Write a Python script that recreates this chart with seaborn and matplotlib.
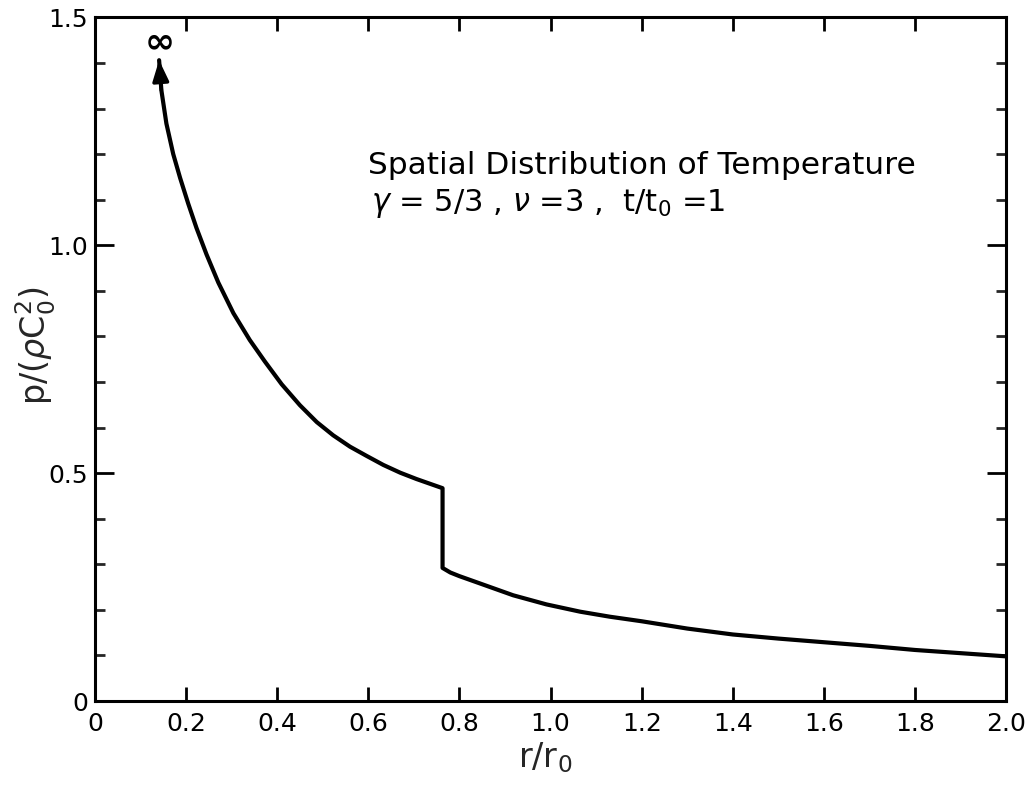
import matplotlib
matplotlib.use("Agg")
import matplotlib.pyplot as plt
import seaborn as sns
import pandas as pd
import numpy as np

# Inner region (behind the front), rising to infinity at small r
r_inner = [0.141, 0.146, 0.157, 0.172, 0.187, 0.205, 0.223, 0.245, 0.271, 0.304, 0.340, 0.373,
           0.410, 0.450, 0.487, 0.523, 0.560, 0.596, 0.633, 0.670, 0.706, 0.743, 0.763]
p_inner = [1.406, 1.340, 1.267, 1.200, 1.148, 1.091, 1.038, 0.980, 0.918, 0.851, 0.792, 0.745,
           0.695, 0.649, 0.612, 0.583, 0.558, 0.538, 0.518, 0.501, 0.487, 0.474, 0.467]
# Outer region (beyond the front)
r_outer = [0.763, 0.780, 0.800, 0.845, 0.918, 0.991, 1.065, 1.130, 1.200, 1.300, 1.400, 1.500,
           1.600, 1.700, 1.800, 1.900, 2.000]
p_outer = [0.292, 0.282, 0.274, 0.258, 0.232, 0.212, 0.196, 0.185, 0.175, 0.159, 0.146, 0.137,
           0.129, 0.121, 0.112, 0.105, 0.098]

x_ticks = [0, 0.2, 0.4, 0.6, 0.8, 1.0, 1.2, 1.4, 1.6, 1.8, 2.0]
x_ticklabels = ["0", "0.2", "0.4", "0.6", "0.8", "1.0", "1.2", "1.4", "1.6", "1.8", "2.0"]
y_ticks = [0, 0.5, 1.0, 1.5]
y_ticklabels = ["0", "0.5", "1.0", "1.5"]

sns.set_theme(style="ticks")
plt.rcParams["font.family"] = ["DejaVu Sans"]

df = pd.DataFrame({"r": r_inner + r_outer, "p": p_inner + p_outer})

fig = plt.figure(figsize=(10.31, 7.89), dpi=100)
ax = fig.add_axes([0.092, 0.1115, 0.884, 0.8665])

sns.lineplot(data=df, x="r", y="p", sort=False, estimator=None, color="black",
             linewidth=3.0, ax=ax)

# arrowhead at the top end of the inner curve
ax.annotate("", xy=(r_inner[0], p_inner[0]), xytext=(r_inner[1], p_inner[1]),
            arrowprops=dict(arrowstyle="-|>,head_length=0.9,head_width=0.35", color="black",
                            lw=2.5, mutation_scale=14, shrinkA=0, shrinkB=0))
ax.text(r_inner[0] + 0.001, 1.445, "\u221e", fontsize=26, fontweight="bold",
        ha="center", va="center", color="black")

ax.set_xlim(0, 2.0)
ax.set_ylim(0, 1.5)
ax.set_xticks(x_ticks)
ax.set_xticklabels(x_ticklabels)
ax.set_yticks(y_ticks)
ax.set_yticklabels(y_ticklabels)
ax.set_yticks(np.arange(0, 1.51, 0.1), minor=True)

for s in ax.spines.values():
    s.set_visible(True)
    s.set_linewidth(2.2)
    s.set_color("black")

ax.tick_params(axis="x", which="major", direction="in", length=10, width=2.0,
               top=True, bottom=True, labelsize=18, pad=8, colors="black")
ax.tick_params(axis="y", which="major", direction="in", length=14, width=2.0,
               left=True, right=True, labelsize=18, pad=5, colors="black")
ax.tick_params(axis="y", which="minor", direction="in", length=7, width=2.0,
               left=True, right=True)

ax.set_xlabel(r"r/r$_0$", fontsize=24)
ax.set_ylabel(r"p/($\rho$C$_0^2$)", fontsize=24)
ax.xaxis.set_label_coords(0.494, -0.058)
ax.yaxis.set_label_coords(-0.040, 0.52)

ax.text(0.60, 1.175, "Spatial Distribution of Temperature", fontsize=22.5,
        ha="left", va="center", color="black")
ax.text(0.605, 1.092, r"$\gamma$ = 5/3 , $\nu$ =3 ,  t/t$_0$ =1", fontsize=22,
        ha="left", va="center", color="black")

fig.savefig("out.png", dpi=100, facecolor="white")
